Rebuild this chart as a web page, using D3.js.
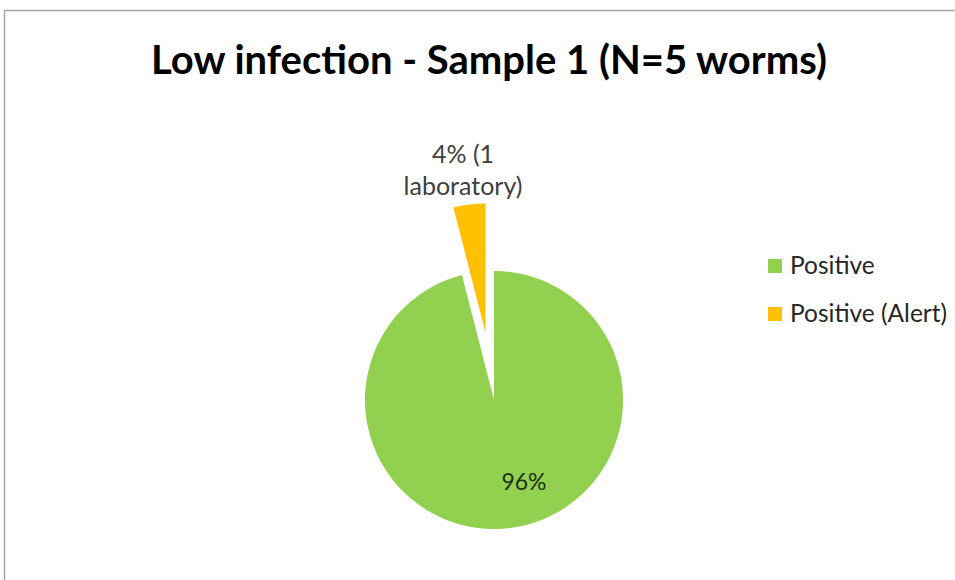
<!DOCTYPE html>
<html>
<head>
<meta charset="utf-8">
<script src="https://cdn.jsdelivr.net/npm/d3@7"></script>
<style>
  body { margin: 0; background: #fff; }
  text { font-family: Lato, "Open Sans", sans-serif; }
</style>
</head>
<body>
<div id="chart"></div>
<script>
// chart data
const categories = ["Positive", "Positive (Alert)"];
const values = [96, 4];
const sliceLabels = ["96%", "4% (1 laboratory)"];
const colors = ["#92D050", "#FFC000"];
const title = "Low infection - Sample 1 (N=5 worms)";

const width = 955, height = 580;
const cx = 494, cy = 400, radius = 129;

const svg = d3.select("#chart")
  .append("svg")
    .attr("width", width)
    .attr("height", height);

// chart area border
svg.append("rect")
  .attr("x", 4.5).attr("y", 10.5)
  .attr("width", 970).attr("height", 600)
  .attr("fill", "#fff")
  .attr("stroke", "#a6a6a6")
  .attr("stroke-width", 1.5);

// title
svg.append("text")
  .attr("x", 489).attr("y", 74)
  .attr("text-anchor", "middle")
  .attr("font-size", 40)
  .attr("font-weight", "bold")
  .attr("fill", "#000")
  .text(title);

// pie: Positive starts at 12 o'clock clockwise, Alert slice fills the rest
const pie = d3.pie().sort(null).value(d => d)(values);
const arc = d3.arc().innerRadius(0).outerRadius(radius);
const explode = [0, 68];

const g = svg.append("g").attr("transform", `translate(${cx},${cy})`);

g.selectAll("path")
  .data(pie)
  .join("path")
    .attr("transform", (d, i) => {
      const a = (d.startAngle + d.endAngle) / 2;
      return `translate(${Math.sin(a) * explode[i]},${-Math.cos(a) * explode[i]})`;
    })
    .attr("d", arc)
    .attr("fill", (d, i) => colors[i]);

// 96% label inside the big slice
g.append("text")
  .attr("x", 30).attr("y", 90)
  .attr("text-anchor", "middle")
  .attr("font-size", 23)
  .attr("fill", "#1f2f10")
  .text(sliceLabels[0]);

// 4% label above the exploded slice, wrapped on two lines
const small = svg.append("text")
  .attr("text-anchor", "middle")
  .attr("font-size", 25)
  .attr("fill", "#404040");
small.append("tspan").attr("x", 463).attr("y", 163).text("4% (1");
small.append("tspan").attr("x", 463).attr("y", 195).text("laboratory)");

// legend
const legend = svg.append("g").attr("transform", "translate(768,259)");
const item = legend.selectAll("g")
  .data(categories)
  .join("g")
    .attr("transform", (d, i) => `translate(0,${i * 48})`);
item.append("rect")
  .attr("width", 14).attr("height", 14)
  .attr("fill", (d, i) => colors[i]);
item.append("text")
  .attr("x", 22).attr("y", 15)
  .attr("font-size", 24.5)
  .attr("fill", "#262626")
  .text(d => d);
</script>
</body>
</html>
